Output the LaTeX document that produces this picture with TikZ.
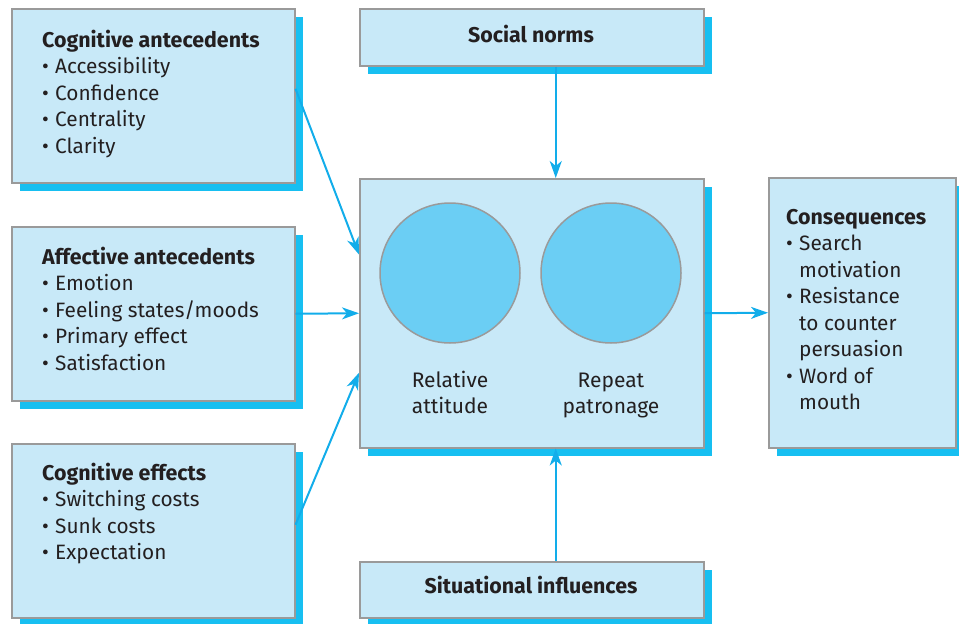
\documentclass[tikz,border=0pt]{standalone}
\usepackage{fontspec}
\setmainfont{Fira Sans}
\usetikzlibrary{arrows.meta,shadows,calc}
\definecolor{boxfill}{HTML}{C8E9F8}
\definecolor{boxline}{HTML}{9A9A9A}
\definecolor{shade}{HTML}{17BFF1}
\definecolor{ballfill}{HTML}{6BCEF4}
\definecolor{flowblue}{HTML}{12ADEA}
\definecolor{ink}{HTML}{231F20}
\newcommand\bul{\makebox[13pt][l]{\textbullet}}
\newcommand\indt{\hspace*{13pt}}
\newcommand\heading[1]{{\fontsize{21.4}{26.5}\selectfont\bfseries #1}}
\begin{document}
\begin{tikzpicture}[x=1pt,y=-1pt,
  panel/.style={draw=boxline, line width=1.5pt, fill=boxfill, anchor=north west,
    inner sep=0pt, general shadow={fill=shade, shadow xshift=8pt, shadow yshift=-8pt}},
  listtext/.style={anchor=base west, align=left, inner sep=0pt, text=ink,
    font=\fontsize{20.8}{26.5}\selectfont},
  headtext/.style={anchor=base, inner sep=0pt, text=ink,
    font=\fontsize{21.4}{26.5}\selectfont\bfseries},
  ball/.style={circle, draw=boxline, line width=1.5pt, fill=ballfill,
    minimum size=140pt, inner sep=0pt},
  caption/.style={anchor=base, align=center, inner sep=0pt, text=ink,
    font=\fontsize{21}{26.5}\selectfont},
  flow/.style={draw=flowblue, line width=2pt,
    -{Stealth[length=17pt, width=12pt, inset=5pt]}}]
\useasboundingbox (0,0) rectangle (959,624);

% boxes
\node[panel, minimum width=283pt, minimum height=174pt] (ca) at (11,8) {};
\node[panel, minimum width=283pt, minimum height=174pt] (ae) at (11,226) {};
\node[panel, minimum width=283pt, minimum height=174pt] (ce) at (11,443) {};
\node[panel, minimum width=344pt, minimum height=57pt] (sn) at (359,8) {};
\node[panel, minimum width=344pt, minimum height=269pt] (core) at (359,178) {};
\node[panel, minimum width=344pt, minimum height=56pt] (si) at (359,561) {};
\node[panel, minimum width=187pt, minimum height=270pt] (cons) at (768,177) {};

% circles inside the central box
\node[ball] (c1) at (450,273) {};
\node[ball] (c2) at (611,273) {};
% multi-line texts are placed by the baseline of their last line
\node[caption] (t1) at (450,413.5) {Relative\\attitude};
\node[caption] (t2) at (611,413.5) {Repeat\\patronage};

% box texts
\node[listtext] (tca) at (42,153) {\heading{Cognitive antecedents}\\
  \bul Accessibility\\ \bul Confidence\\ \bul Centrality\\ \bul Clarity};
\node[listtext] (tae) at (42,370) {\heading{Affective antecedents}\\
  \bul Emotion\\ \bul Feeling states/moods\\ \bul Primary effect\\ \bul Satisfaction};
\node[listtext] (tce) at (42,559.5) {\heading{Cognitive effects}\\
  \bul Switching costs\\ \bul Sunk costs\\ \bul Expectation};
\node[listtext] (tcons) at (786,409.5) {\heading{Consequences}\\
  \bul Search\\ \indt motivation\\ \bul Resistance\\ \indt to counter\\
  \indt persuasion\\ \bul Word of\\ \indt mouth};
\node[headtext] (tsn) at (531,42) {Social norms};
\node[headtext] (tsi) at (531,593) {Situational influences};

% connectors
\draw[flow] ([yshift=7pt]ca.east) -- ($(core.north west)!0.283!(core.south west)$);
\draw[flow] (ae.east) -- (core.west);
\draw[flow] ([yshift=6pt]ce.east) -- ($(core.north west)!0.72!(core.south west)$);
\draw[flow] ([xshift=24pt]sn.south) -- ([xshift=24pt]core.north);
\draw[flow] ([xshift=24pt]si.north) -- ([xshift=24pt]core.south);
\draw[flow] (core.east) -- (cons.west);
\end{tikzpicture}
\end{document}
